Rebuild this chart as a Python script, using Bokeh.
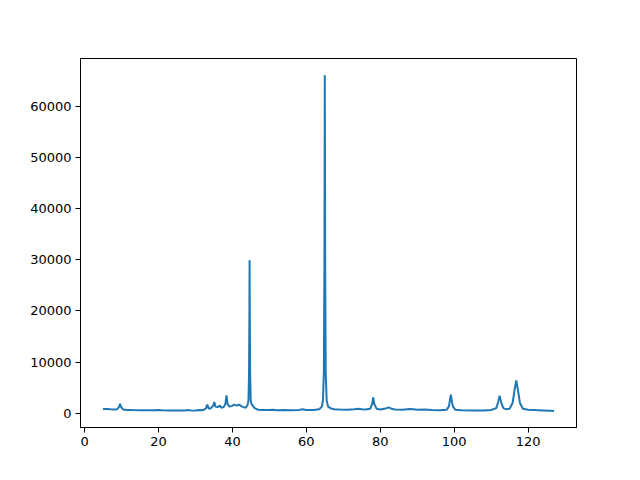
from bokeh.plotting import figure
from bokeh.models import Range1d, FixedTicker
from bokeh.embed import file_html
from bokeh.resources import INLINE

two_theta = [5.0, 6.0, 7.0, 8.0, 8.8, 9.3, 9.6, 9.9, 10.4, 11.5, 13, 15, 17, 19, 20, 21, 23, 25, 27, 28, 29, 30, 31, 32,
             32.8, 33.2, 33.6, 34.2, 34.8, 35.1, 35.4, 36.0, 36.6, 37.0, 37.6, 38.1, 38.4, 38.7, 39.2, 39.8, 40.5,
             41.2, 41.8, 42.4, 43.0, 43.6, 44.1, 44.35, 44.5, 44.6, 44.65, 44.7, 44.8, 44.95, 45.2, 45.5, 46.0,
             47, 48, 50, 51, 52, 54, 56, 58, 59, 60, 62, 63.5, 64.2, 64.5, 64.75, 64.9, 65.0, 65.1, 65.25, 65.5,
             65.9, 66.5, 67.5, 69, 71, 73, 74, 75, 76,
             77.3, 77.8, 78.1, 78.4, 79, 80, 81.5, 82.3, 83, 84, 86, 88, 89, 90, 92, 94, 96, 98, 98.6, 99.1, 99.6,
             100.3, 102, 105, 108, 110, 111.4, 111.9, 112.3, 112.7, 113.3, 114, 115, 115.8, 116.4, 116.8, 117.2,
             117.8, 118.6, 120, 122, 124, 126, 127]
intensity = [850, 820, 780, 760, 800, 1200, 1850, 1200, 750, 650, 620, 600, 590, 600, 640, 580, 560, 560, 560, 620, 520,
             560, 640, 600, 900, 1700, 900, 1000, 1500, 2200, 1300, 1200, 1500, 1100, 1200, 1800, 3500, 1800, 1300,
             1400, 1700, 1500, 1700, 1400, 1200, 1100, 1600, 2500, 8000, 20000, 29900, 20000, 8000, 2500, 1700, 1500,
             1000, 700, 650, 620, 700, 600, 620, 600, 650, 800, 650, 650, 800, 1300, 2500, 8000, 30000, 66000, 30000,
             8000, 2500, 1300, 1000, 800, 750,
             700, 800, 900, 800, 750, 900, 1800, 3100, 1800, 900, 750, 950, 1150, 900, 750, 700, 850, 800, 700, 750,
             650, 600, 700, 1400, 3650, 1400, 700, 600, 550, 560, 650, 1000, 2200, 3450, 2200, 1000, 800, 900, 2000,
             4800, 6400, 4800, 2000, 900, 700, 620, 560, 500, 450]

x_ticks = [0, 20, 40, 60, 80, 100, 120]
y_ticks = [0, 10000, 20000, 30000, 40000, 50000, 60000]

p = figure(output_backend="svg", toolbar_location=None,
           frame_width=496, frame_height=369,
           min_border_left=80, min_border_right=56, min_border_top=58, min_border_bottom=45,
           x_range=Range1d(-1.1, 133.1), y_range=Range1d(-2775, 69275))

p.line(two_theta, intensity, line_color="#1f77b4", line_width=2)

p.xgrid.visible = False
p.ygrid.visible = False
p.outline_line_color = "black"
p.outline_line_alpha = 1
p.outline_line_width = 1
p.background_fill_color = "white"
p.border_fill_color = "white"

for ax, ticks in ((p.xaxis, x_ticks), (p.yaxis, y_ticks)):
    ax.ticker = FixedTicker(ticks=ticks)
    ax.major_tick_out = 5
    ax.major_tick_in = 0
    ax.minor_tick_line_color = None
    ax.major_label_text_font = "DejaVu Sans"
    ax.major_label_text_font_size = "13px"
    ax.major_label_text_color = "black"
    ax.axis_line_color = "black"
    ax.major_tick_line_color = "black"
    ax.major_label_standoff = 4
p.yaxis.formatter.use_scientific = False

open("out.html", "w").write(file_html(p, INLINE))
